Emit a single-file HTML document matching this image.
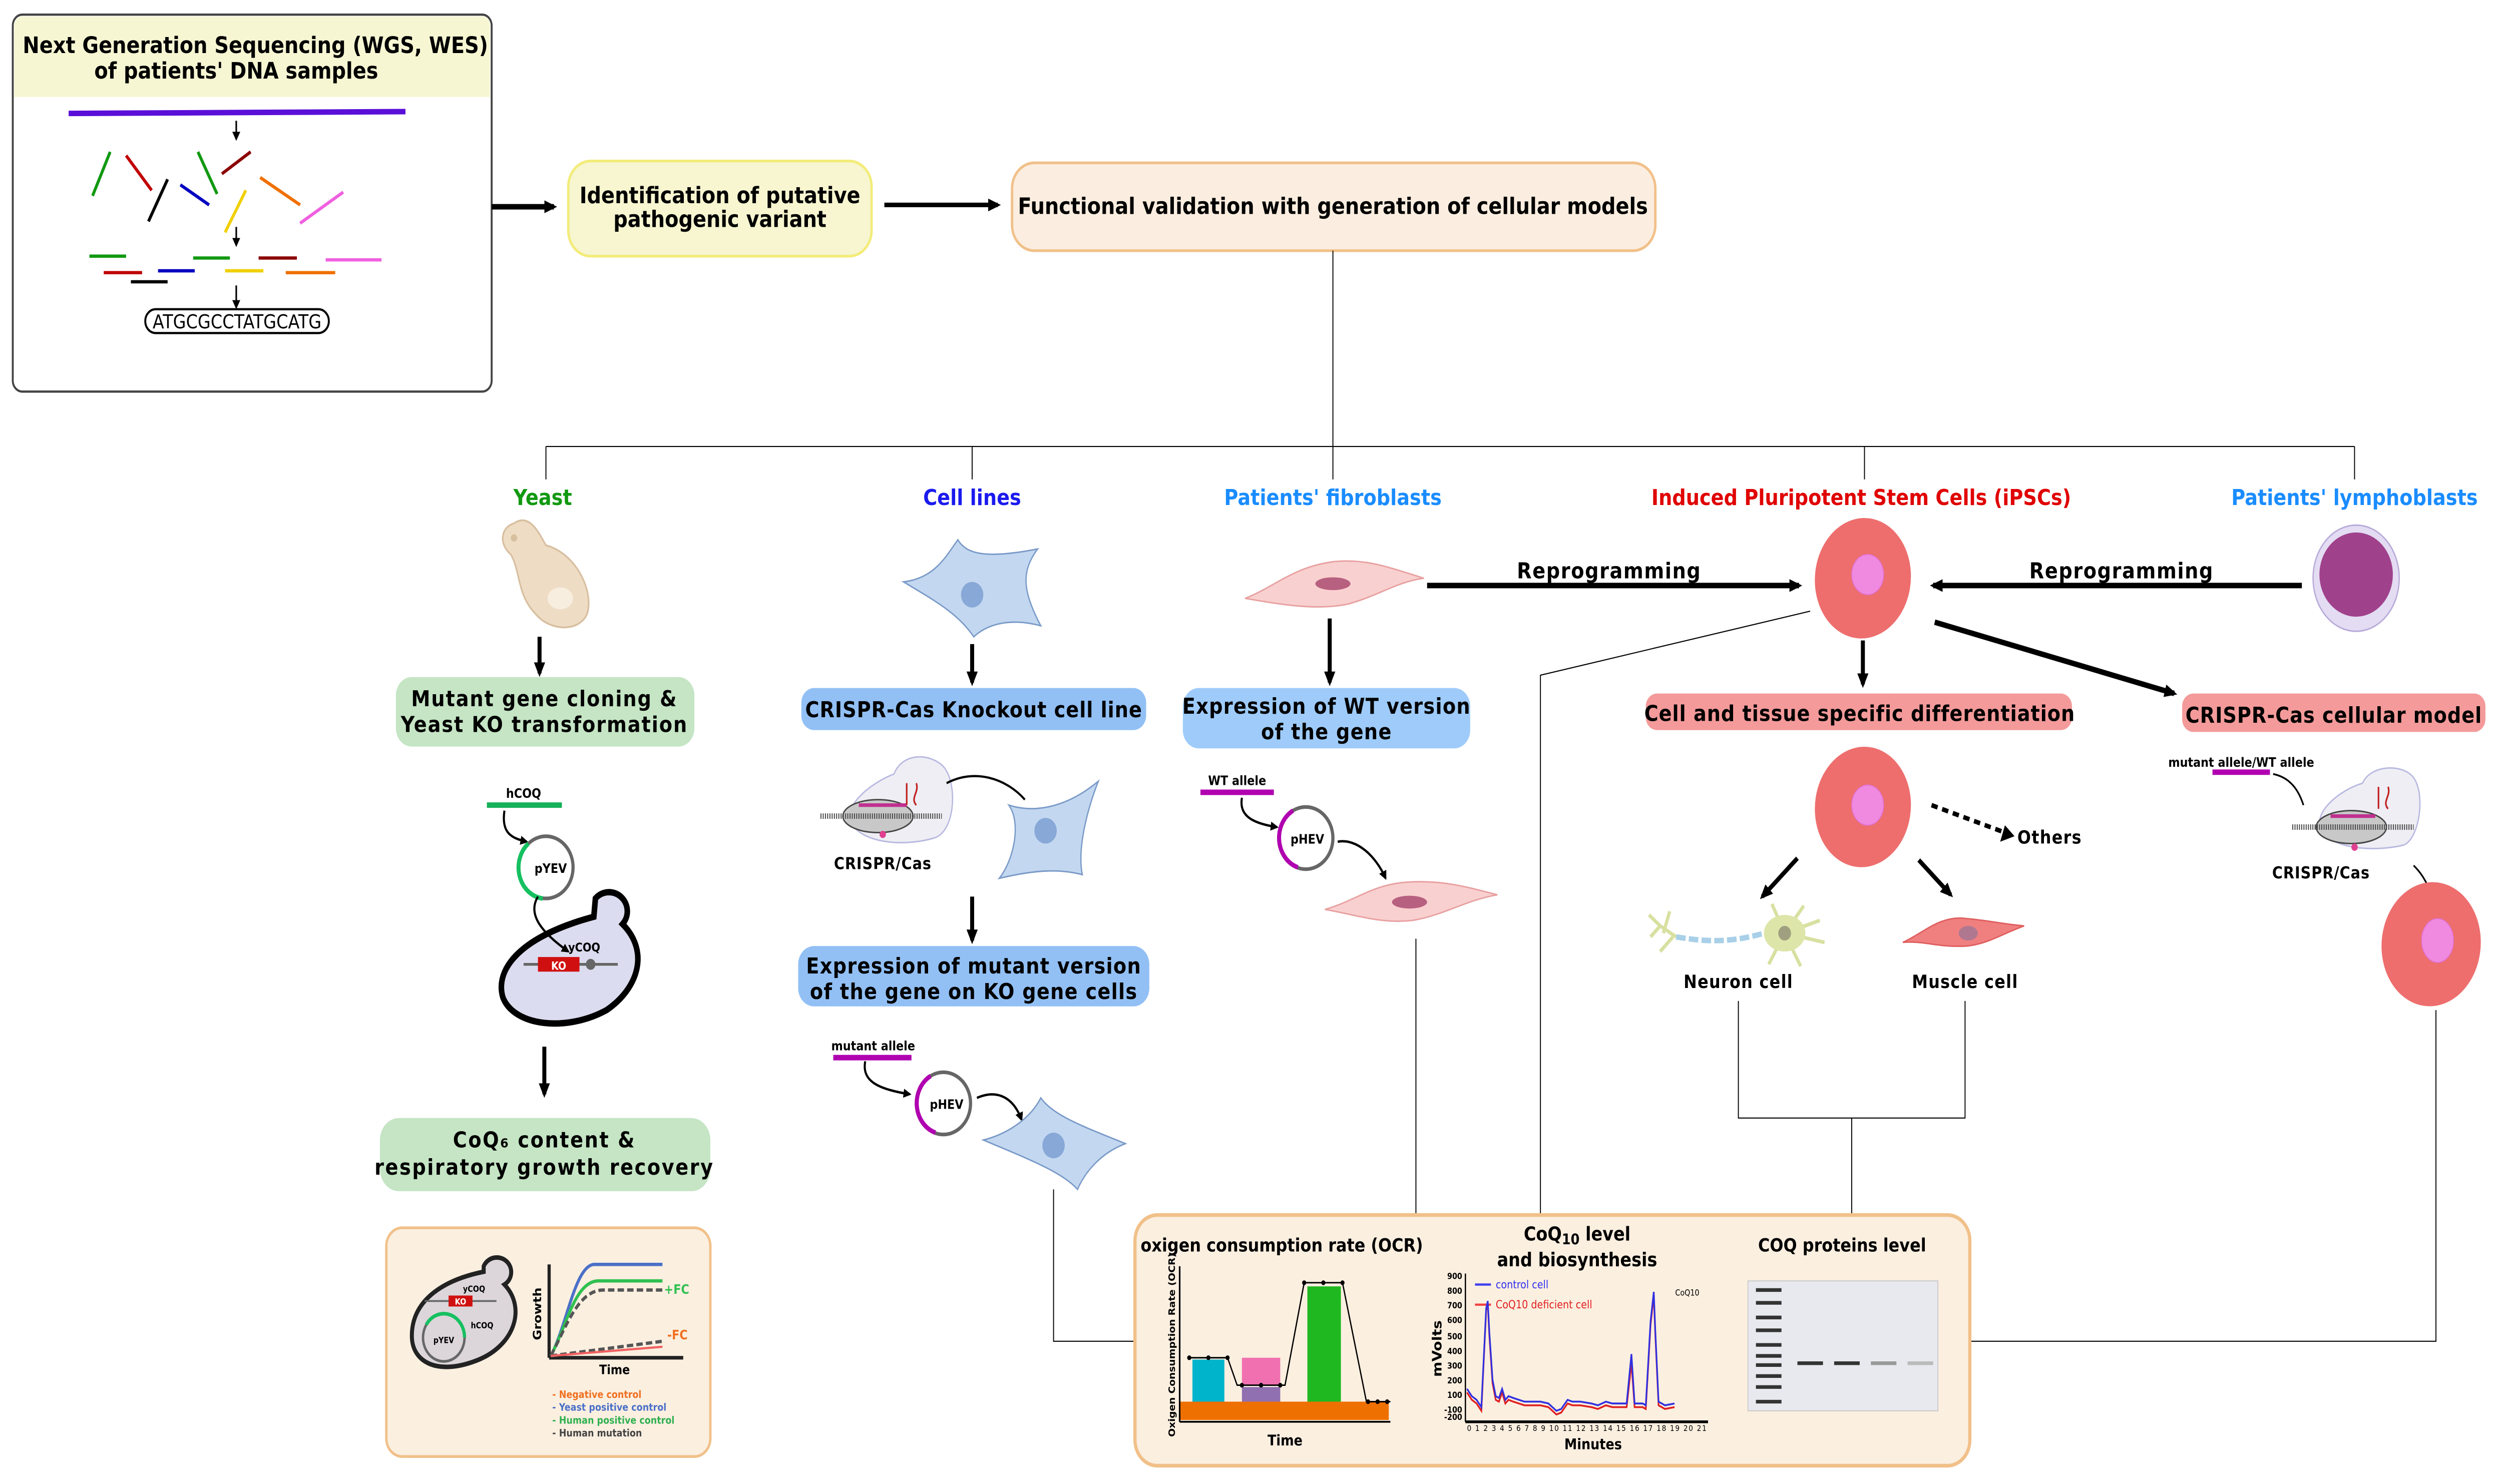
<!DOCTYPE html>
<html><head><meta charset="utf-8"><style>
html,body{margin:0;padding:0;background:#fff;width:100vw;height:100vh;overflow:hidden;}
svg{display:block;width:100vw;height:100vh;}
text{font-family:"DejaVu Sans","Liberation Sans",sans-serif;font-weight:bold;}
</style></head><body>
<svg viewBox="0 0 1568 811" preserveAspectRatio="none" xmlns="http://www.w3.org/2000/svg">
<defs>
<marker id="ah" markerWidth="5" markerHeight="5" refX="4" refY="2.5" orient="auto" markerUnits="userSpaceOnUse"><path d="M0,0 L5,2.5 L0,5 z" fill="#000"/></marker>
<marker id="as" markerWidth="8" markerHeight="7" refX="6" refY="3.5" orient="auto" markerUnits="userSpaceOnUse"><path d="M0,0 L8,3.5 L0,7 z" fill="#000"/></marker>
</defs>
<rect width="1568" height="811" fill="#fff"/>
<g>

<!-- NGS box -->
<rect x="8" y="8" width="300" height="206" rx="6" fill="#fff" stroke="#444" stroke-width="1.2"/>
<path d="M9,53 V14 a5,5 0 0 1 5,-5 H302 a5,5 0 0 1 5,5 V53 z" fill="#f7f6d3"/>
<text x="160" y="29" font-size="12.5" text-anchor="middle">Next Generation Sequencing (WGS, WES)</text>
<text x="148" y="43" font-size="12.5" text-anchor="middle">of patients' DNA samples</text>
<line x1="43" y1="62" x2="254" y2="61" stroke="#5a0fd8" stroke-width="3"/>
<line x1="148" y1="66" x2="148" y2="76" stroke="#000" stroke-width="1" marker-end="url(#ah)"/>
<g stroke-width="1.8">
<line x1="69" y1="83" x2="58" y2="107" stroke="#119911"/>
<line x1="79" y1="85" x2="95" y2="104" stroke="#c00000"/>
<line x1="105" y1="98" x2="93" y2="121" stroke="#000"/>
<line x1="113" y1="101" x2="131" y2="112" stroke="#0000c0"/>
<line x1="124" y1="83" x2="136" y2="106" stroke="#119911"/>
<line x1="139" y1="95" x2="157" y2="83" stroke="#8b0000"/>
<line x1="163" y1="97" x2="188" y2="112" stroke="#f07000"/>
<line x1="154" y1="104" x2="141" y2="127" stroke="#f0d000"/>
<line x1="188" y1="122" x2="215" y2="105" stroke="#f060e0"/>
<line x1="56" y1="140" x2="79" y2="140" stroke="#119911"/>
<line x1="65" y1="149" x2="89" y2="149" stroke="#c00000"/>
<line x1="82" y1="154" x2="105" y2="154" stroke="#000"/>
<line x1="99" y1="148" x2="122" y2="148" stroke="#0000c0"/>
<line x1="121" y1="141" x2="144" y2="141" stroke="#119911"/>
<line x1="141" y1="148" x2="165" y2="148" stroke="#f0d000"/>
<line x1="162" y1="141" x2="186" y2="141" stroke="#8b0000"/>
<line x1="179" y1="149" x2="210" y2="149" stroke="#f07000"/>
<line x1="204" y1="142" x2="239" y2="142" stroke="#f060e0"/>
</g>
<line x1="148" y1="124" x2="148" y2="134" stroke="#000" stroke-width="1" marker-end="url(#ah)"/>
<line x1="148" y1="156" x2="148" y2="168" stroke="#000" stroke-width="1" marker-end="url(#ah)"/>
<rect x="91" y="169" width="115" height="13" rx="6.5" fill="#fff" stroke="#000" stroke-width="1.2"/>
<text x="148.5" y="179.5" font-size="10.5" style="font-weight:normal" text-anchor="middle">ATGCGCCTATGCATG</text>

<!-- top flow -->
<line x1="308" y1="113" x2="347" y2="113" stroke="#000" stroke-width="3" marker-end="url(#as)"/>
<rect x="356" y="88" width="190" height="52" rx="14" fill="#f7f6d0" stroke="#f2ec7a" stroke-width="1.5"/>
<text x="451" y="111" font-size="12.5" text-anchor="middle">Identification of putative</text>
<text x="451" y="124" font-size="12.5" text-anchor="middle">pathogenic variant</text>
<line x1="554" y1="112" x2="625" y2="112" stroke="#000" stroke-width="2.5" marker-end="url(#as)"/>
<rect x="634" y="89" width="403" height="48" rx="14" fill="#fbeee0" stroke="#f1c089" stroke-width="1.5"/>
<text x="835" y="117" font-size="12.5" text-anchor="middle">Functional validation with generation of cellular models</text>

<!-- tree -->
<g stroke="#000" stroke-width="0.6" fill="none">
<line x1="835" y1="137" x2="835" y2="262"/>
<line x1="342" y1="244" x2="1475" y2="244"/>
<line x1="342" y1="244" x2="342" y2="262"/>
<line x1="609" y1="244" x2="609" y2="262"/>
<line x1="1168" y1="244" x2="1168" y2="262"/>
<line x1="1475" y1="244" x2="1475" y2="262"/>
</g>
<text x="340" y="276" font-size="12" fill="#119911" text-anchor="middle">Yeast</text>
<text x="609" y="276" font-size="12" fill="#1a1aee" text-anchor="middle">Cell lines</text>
<text x="835" y="276" font-size="12" fill="#1a8cff" text-anchor="middle">Patients' fibroblasts</text>
<text x="1166" y="276" font-size="12" fill="#e00000" text-anchor="middle">Induced Pluripotent Stem Cells (iPSCs)</text>
<text x="1475" y="276" font-size="12" fill="#1a8cff" text-anchor="middle">Patients' lymphoblasts</text>

<!-- YEAST column -->
<path d="M322,286 C332,280 338,292 342,298 C360,302 372,322 368,335 C364,345 345,346 335,335 C324,325 326,312 320,303 C312,297 314,288 322,286z" fill="#efdcc4" stroke="#d8bfa0" stroke-width="1"/>
<ellipse cx="351" cy="327" rx="8" ry="6" fill="#f7eedf"/>
<circle cx="322" cy="294" r="2" fill="#d8bfa0"/>
<line x1="338" y1="348" x2="338" y2="368" stroke="#000" stroke-width="2.5" marker-end="url(#as)"/>
<rect x="248" y="370" width="187" height="38" rx="10" fill="#c5e5c5"/>
<text x="341" y="386" font-size="12" text-anchor="middle" letter-spacing="0.6">Mutant gene cloning &amp;</text>
<text x="341" y="400" font-size="12" text-anchor="middle" letter-spacing="0.6">Yeast KO transformation</text>
<line x1="305" y1="440" x2="352" y2="440" stroke="#15b05a" stroke-width="3"/>
<text x="328" y="436" font-size="7" text-anchor="middle">hCOQ</text>
<path d="M316,443 C314,455 320,458 330,460" stroke="#000" stroke-width="1.3" fill="none" marker-end="url(#ah)"/>
<circle cx="342" cy="474" r="17" fill="#fff" stroke="#666" stroke-width="2"/>
<path d="M331,461 A17,17 0 0 0 340,491" stroke="#15c060" stroke-width="2.5" fill="none"/>
<text x="345" y="477" font-size="7" text-anchor="middle">pYEV</text>
<path d="M373,491 a11,10 0 1 1 17,14 C407,520 400,540 380,552 C355,564 322,561 315,545 C310,530 325,512 372,501 z" fill="#dcdcf0" stroke="#000" stroke-width="3.5"/>
<path d="M337,490 C330,500 340,510 356,520" stroke="#000" stroke-width="1.3" fill="none" marker-end="url(#ah)"/>
<line x1="328" y1="527" x2="387" y2="527" stroke="#666" stroke-width="1.5"/>
<circle cx="370" cy="527" r="3" fill="#666"/>
<rect x="337" y="523" width="26" height="8" fill="#d01010"/>
<text x="350" y="530" font-size="6" fill="#fff" text-anchor="middle">KO</text>
<text x="366" y="520" font-size="6.5" text-anchor="middle">yCOQ</text>
<line x1="341" y1="572" x2="341" y2="598" stroke="#000" stroke-width="2.5" marker-end="url(#as)"/>
<rect x="238" y="611" width="207" height="40" rx="12" fill="#c5e5c5"/>
<text x="341" y="627" font-size="12" text-anchor="middle" letter-spacing="0.8">CoQ₆ content &amp;</text>
<text x="341" y="642" font-size="12" text-anchor="middle" letter-spacing="0.8">respiratory growth recovery</text>
<rect x="242" y="671" width="203" height="125" rx="10" fill="#fbefe0" stroke="#f1c089" stroke-width="1.5"/>
<path d="M303,692 a9,8 0 1 1 13,10 C330,715 322,735 300,743 C275,752 258,745 258,730 C258,712 275,700 303,695 z" fill="#dcd6da" stroke="#222" stroke-width="2.5"/>
<line x1="266" y1="711" x2="311" y2="711" stroke="#666" stroke-width="1"/>
<rect x="281" y="708" width="15" height="6" fill="#d01010"/>
<text x="288.5" y="713" font-size="4.5" fill="#fff" text-anchor="middle">KO</text>
<text x="297" y="706" font-size="4.5" text-anchor="middle">yCOQ</text>
<text x="302" y="726" font-size="4.5" text-anchor="middle">hCOQ</text>
<circle cx="278" cy="731" r="13" fill="none" stroke="#666" stroke-width="1.5"/>
<path d="M267,724 A13,13 0 0 1 291,731" stroke="#15c060" stroke-width="2" fill="none"/>
<text x="278" y="734" font-size="4.5" text-anchor="middle">pYEV</text>
<line x1="344" y1="691" x2="344" y2="742" stroke="#222" stroke-width="2"/>
<line x1="344" y1="742" x2="428" y2="742" stroke="#222" stroke-width="2"/>
<path d="M345,741 C355,725 360,692 372,691 H415" stroke="#4a70c8" stroke-width="1.8" fill="none"/>
<path d="M345,741 C355,725 360,700 375,700 H415" stroke="#30c050" stroke-width="1.8" fill="none"/>
<path d="M345,741 C355,725 362,705 378,705 H415" stroke="#555" stroke-width="1.8" stroke-dasharray="4,2" fill="none"/>
<path d="M345,741 L415,733" stroke="#555" stroke-width="1.8" stroke-dasharray="4,2" fill="none"/>
<path d="M345,741 L415,736" stroke="#f06060" stroke-width="1.2" fill="none"/>
<text x="416" y="707" font-size="7" fill="#30c050">+FC</text>
<text x="418" y="732" font-size="7" fill="#f07020">-FC</text>
<text x="339" y="718" font-size="7" text-anchor="middle" transform="rotate(-90 339 718)">Growth</text>
<text x="385" y="751" font-size="7" text-anchor="middle">Time</text>
<text x="346" y="764" font-size="5.5" fill="#f07020">- Negative control</text>
<text x="346" y="771" font-size="5.5" fill="#4a70c8">- Yeast positive control</text>
<text x="346" y="778" font-size="5.5" fill="#30b050">- Human positive control</text>
<text x="346" y="785" font-size="5.5" fill="#444">- Human mutation</text>

<!-- CELL LINES column -->
<path d="M566,318 C585,316 592,305 600,295 C605,302 615,306 650,300 C640,312 640,322 652,342 C635,338 620,340 610,348 C600,335 585,328 566,318z" fill="#c3d8f0" stroke="#7a9ac8" stroke-width="0.8"/>
<ellipse cx="609" cy="325" rx="7" ry="7" fill="#88a8d8"/>
<line x1="609" y1="352" x2="609" y2="373" stroke="#000" stroke-width="2.5" marker-end="url(#as)"/>
<rect x="502" y="376" width="216" height="23" rx="8" fill="#92c0f5"/>
<text x="610" y="392" font-size="12" text-anchor="middle" letter-spacing="0.3">CRISPR-Cas Knockout cell line</text>
<g>
<path d="M560,423 C566,410 585,412 592,420 C600,430 598,455 585,458 C570,462 545,462 535,452 C525,442 545,428 560,423z" fill="#eeeef4" stroke="#b8b8e0" stroke-width="0.8"/>
<ellipse cx="550" cy="446" rx="22" ry="9" fill="#c8c8c8" stroke="#444" stroke-width="0.8"/>
<line x1="514" y1="446" x2="590" y2="446" stroke="#444" stroke-width="3" stroke-dasharray="0.6,0.8"/>
<line x1="538" y1="440" x2="568" y2="440" stroke="#c03090" stroke-width="2"/>
<path d="M568,428 v12 M574,428 c2,5 -4,8 0,12" stroke="#c02020" stroke-width="1" fill="none"/>
<circle cx="553" cy="456" r="2" fill="#e04090"/>
</g>
<text x="553" y="475" font-size="9" text-anchor="middle" letter-spacing="0.3">CRISPR/Cas</text>
<path d="M593,428 C610,420 630,425 642,437" stroke="#000" stroke-width="1.2" fill="none"/>
<path d="M626,480 C635,470 640,450 632,440 C650,445 670,440 688,427 C680,445 675,465 678,478 C665,475 650,475 626,480z" fill="#c3d8f0" stroke="#7a9ac8" stroke-width="0.8"/>
<ellipse cx="655" cy="454" rx="7" ry="7" fill="#88a8d8"/>
<line x1="609" y1="490" x2="609" y2="514" stroke="#000" stroke-width="2.5" marker-end="url(#as)"/>
<rect x="500" y="517" width="220" height="33" rx="10" fill="#92c0f5"/>
<text x="610" y="532" font-size="12" text-anchor="middle" letter-spacing="0.4">Expression of mutant version</text>
<text x="610" y="546" font-size="12" text-anchor="middle" letter-spacing="0.4">of the gene on KO gene cells</text>
<text x="547" y="574" font-size="7" text-anchor="middle">mutant allele</text>
<line x1="522" y1="578" x2="571" y2="578" stroke="#b000b0" stroke-width="3"/>
<path d="M542,580 C540,590 548,595 570,598" stroke="#000" stroke-width="1.3" fill="none" marker-end="url(#ah)"/>
<circle cx="591" cy="603" r="17" fill="#fff" stroke="#666" stroke-width="2"/>
<path d="M583,588 A17,17 0 0 0 586,619" stroke="#b000b0" stroke-width="2.5" fill="none"/>
<text x="593" y="606" font-size="7" text-anchor="middle">pHEV</text>
<path d="M612,600 C625,595 635,600 640,612" stroke="#000" stroke-width="1.3" fill="none" marker-end="url(#ah)"/>
<path d="M616,623 C630,620 645,612 652,600 C660,610 680,616 705,625 C690,630 680,640 675,650 C665,640 640,632 616,623z" fill="#c3d8f0" stroke="#7a9ac8" stroke-width="0.8"/>
<ellipse cx="660" cy="626" rx="7" ry="7" fill="#88a8d8"/>
<path d="M660,650 V733 H711" stroke="#000" stroke-width="0.6" fill="none"/>

<!-- FIBROBLAST column -->
<path d="M780,327 C800,320 810,310 835,307 C855,305 870,310 892,316 C875,318 865,325 845,330 C825,334 800,330 780,327z" fill="#f9d0d0" stroke="#e8a0a0" stroke-width="0.8"/>
<ellipse cx="835" cy="319" rx="11" ry="3.5" fill="#b86080"/>
<line x1="833" y1="338" x2="833" y2="373" stroke="#000" stroke-width="2.5" marker-end="url(#as)"/>
<rect x="741" y="376" width="180" height="33" rx="10" fill="#9ecbfa"/>
<text x="831" y="390" font-size="12" text-anchor="middle" letter-spacing="0.4">Expression of WT version</text>
<text x="831" y="404" font-size="12" text-anchor="middle" letter-spacing="0.4">of the gene</text>
<text x="775" y="429" font-size="7" text-anchor="middle">WT allele</text>
<line x1="752" y1="433" x2="798" y2="433" stroke="#b000b0" stroke-width="3"/>
<path d="M778,436 C776,446 785,450 800,452" stroke="#000" stroke-width="1.3" fill="none" marker-end="url(#ah)"/>
<circle cx="818" cy="458" r="17" fill="#fff" stroke="#666" stroke-width="2"/>
<path d="M810,443 A17,17 0 0 0 813,474" stroke="#b000b0" stroke-width="2.5" fill="none"/>
<text x="819" y="461" font-size="7" text-anchor="middle">pHEV</text>
<path d="M838,460 C850,458 862,468 868,480" stroke="#000" stroke-width="1.3" fill="none" marker-end="url(#ah)"/>
<path d="M830,497 C850,492 860,483 883,482 C905,481 920,485 938,489 C918,492 905,500 885,503 C865,505 850,500 830,497z" fill="#f9d0d0" stroke="#e8a0a0" stroke-width="0.8"/>
<ellipse cx="883" cy="493" rx="11" ry="3.5" fill="#b86080"/>
<line x1="887" y1="513" x2="887" y2="664" stroke="#000" stroke-width="0.6"/>
<line x1="894" y1="320" x2="1127" y2="320" stroke="#000" stroke-width="3" marker-end="url(#as)"/>
<text x="1008" y="316" font-size="12" text-anchor="middle" letter-spacing="0.5">Reprogramming</text>

<!-- iPSC column -->
<g transform="rotate(10 1167 316)"><ellipse cx="1167" cy="316" rx="30" ry="33" fill="#ee6e6e"/></g>
<ellipse cx="1170" cy="314" rx="10" ry="11" fill="#f08ae0" stroke="#e070d0" stroke-width="0.5"/>
<line x1="1442" y1="320" x2="1211" y2="320" stroke="#000" stroke-width="3" marker-end="url(#as)"/>
<text x="1329" y="316" font-size="12" text-anchor="middle" letter-spacing="0.5">Reprogramming</text>
<ellipse cx="1476" cy="316" rx="27" ry="29" fill="#e3dcf3" stroke="#b8aad8" stroke-width="0.8"/>
<ellipse cx="1476" cy="314" rx="23" ry="23" fill="#a0418c"/>
<path d="M1134,334 L965,369 V664" stroke="#000" stroke-width="0.6" fill="none"/>
<line x1="1167" y1="350" x2="1167" y2="374" stroke="#000" stroke-width="2.5" marker-end="url(#as)"/>
<rect x="1031" y="379" width="267" height="20" rx="7" fill="#f49a9a"/>
<text x="1165" y="394" font-size="12" text-anchor="middle" letter-spacing="0.3">Cell and tissue specific differentiation</text>
<line x1="1212" y1="340" x2="1362" y2="379" stroke="#000" stroke-width="3" marker-end="url(#as)"/>
<rect x="1367" y="379" width="190" height="21" rx="7" fill="#f49a9a"/>
<text x="1462" y="395" font-size="12" text-anchor="middle" letter-spacing="0.3">CRISPR-Cas cellular model</text>
<g transform="rotate(10 1167 441)"><ellipse cx="1167" cy="441" rx="30" ry="33" fill="#ee6e6e"/></g>
<ellipse cx="1170" cy="440" rx="10" ry="11" fill="#f08ae0" stroke="#e070d0" stroke-width="0.5"/>
<line x1="1210" y1="440" x2="1256" y2="455" stroke="#000" stroke-width="2.5" stroke-dasharray="4,3"/>
<path d="M1262,457 L1253,460 L1256,451 z" fill="#000"/>
<text x="1284" y="461" font-size="10" text-anchor="middle" letter-spacing="0.4">Others</text>
<line x1="1126" y1="469" x2="1104" y2="490" stroke="#000" stroke-width="2.5" marker-end="url(#as)"/>
<line x1="1202" y1="470" x2="1222" y2="489" stroke="#000" stroke-width="2.5" marker-end="url(#as)"/>
<!-- neuron -->
<g stroke="#d8e0a0" stroke-width="2" fill="none">
<path d="M1040,506 L1033,500 M1040,506 L1034,512 M1040,506 L1050,512 M1046,498 L1042,510 M1040,520 L1048,512"/>
<path d="M1118,510 L1130,495 M1118,510 L1140,503 M1118,510 L1143,515 M1118,510 L1128,528 M1118,510 L1108,527 M1118,510 L1110,494"/>
</g>
<path d="M1050,512 C1070,515 1085,515 1105,510" stroke="#a8d0e8" stroke-width="3" stroke-dasharray="6,2" fill="none"/>
<ellipse cx="1118" cy="510" rx="13" ry="10" fill="#dde6a8"/>
<circle cx="1118" cy="510" r="4" fill="#a0a080"/>
<path d="M1192,515 C1205,510 1215,500 1232,502 C1245,503 1255,505 1268,506 C1255,510 1245,516 1232,517 C1215,518 1205,514 1192,515z" fill="#f08080" stroke="#e06060" stroke-width="0.8"/>
<ellipse cx="1233" cy="510" rx="6" ry="4" fill="#b07890"/>
<text x="1089" y="540" font-size="10" text-anchor="middle" letter-spacing="0.4">Neuron cell</text>
<text x="1231" y="540" font-size="10" text-anchor="middle" letter-spacing="0.4">Muscle cell</text>
<g stroke="#000" stroke-width="0.6" fill="none">
<path d="M1089,547 V611 H1231 V547"/>
<line x1="1160" y1="611" x2="1160" y2="664"/>
</g>
<!-- right CRISPR -->
<text x="1404" y="419" font-size="7" text-anchor="middle">mutant allele/WT allele</text>
<line x1="1386" y1="422" x2="1422" y2="422" stroke="#b000b0" stroke-width="3"/>
<path d="M1424,423 C1435,425 1440,432 1443,440" stroke="#000" stroke-width="1" fill="none"/>
<path d="M1480,428 C1485,418 1505,417 1512,425 C1520,435 1515,460 1505,462 C1490,465 1465,465 1455,455 C1447,445 1465,432 1480,428z" fill="#eeeef4" stroke="#b8b8e0" stroke-width="0.8"/>
<ellipse cx="1473" cy="452" rx="22" ry="9" fill="#c8c8c8" stroke="#444" stroke-width="0.8"/>
<line x1="1436" y1="452" x2="1512" y2="452" stroke="#444" stroke-width="3" stroke-dasharray="0.6,0.8"/>
<line x1="1460" y1="446" x2="1488" y2="446" stroke="#c03090" stroke-width="2"/>
<path d="M1490,430 v12 M1496,430 c2,5 -4,8 0,12" stroke="#c02020" stroke-width="1" fill="none"/>
<circle cx="1475" cy="463" r="2" fill="#e04090"/>
<text x="1454" y="480" font-size="9" text-anchor="middle" letter-spacing="0.3">CRISPR/Cas</text>
<path d="M1512,473 C1518,478 1522,485 1523,490" stroke="#000" stroke-width="1" fill="none"/>
<g transform="rotate(10 1523 516)"><ellipse cx="1523" cy="516" rx="31" ry="34" fill="#ee6e6e"/></g>
<ellipse cx="1527" cy="514" rx="10" ry="12" fill="#f08ae0" stroke="#e070d0" stroke-width="0.5"/>
<path d="M1526,552 V733 H1234" stroke="#000" stroke-width="0.6" fill="none"/>

<!-- bottom panel -->
<rect x="711" y="664" width="523" height="137" rx="14" fill="#fbefe0" stroke="#f1c089" stroke-width="2"/>
<text x="803" y="684" font-size="10" text-anchor="middle">oxigen consumption rate (OCR)</text>
<text x="988" y="678" font-size="10.5" text-anchor="middle">CoQ<tspan font-size="8" dy="2">10</tspan><tspan dy="-2"> level</tspan></text>
<text x="988" y="692" font-size="10.5" text-anchor="middle">and biosynthesis</text>
<text x="1154" y="684" font-size="10" text-anchor="middle">COQ proteins level</text>
<!-- OCR chart -->
<rect x="739" y="766" width="131" height="10" fill="#ee7000"/>
<rect x="747" y="743" width="20" height="23" fill="#00b4cc"/>
<rect x="778" y="742" width="24" height="15" fill="#f070b0"/>
<rect x="778" y="758" width="24" height="8" fill="#9070b0"/>
<rect x="819" y="703" width="21" height="63" fill="#20b820"/>
<line x1="739" y1="692" x2="739" y2="777" stroke="#000" stroke-width="1"/>
<line x1="739" y1="777" x2="871" y2="777" stroke="#000" stroke-width="1"/>
<polyline points="745,742 769,742 775,757 805,757 817,701 841,701 856,766 871,766" stroke="#000" stroke-width="0.8" fill="none"/>
<g fill="#000"><circle cx="745" cy="742" r="1.3"/><circle cx="757" cy="742" r="1.3"/><circle cx="769" cy="742" r="1.3"/><circle cx="778" cy="757" r="1.3"/><circle cx="790" cy="757" r="1.3"/><circle cx="802" cy="757" r="1.3"/><circle cx="817" cy="701" r="1.3"/><circle cx="829" cy="701" r="1.3"/><circle cx="841" cy="701" r="1.3"/><circle cx="857" cy="766" r="1.3"/><circle cx="863" cy="766" r="1.3"/><circle cx="869" cy="766" r="1.3"/></g>
<text x="736" y="735" font-size="5.5" text-anchor="middle" transform="rotate(-90 736 735)">Oxigen Consumption Rate (OCR)</text>
<text x="805" y="790" font-size="8" text-anchor="middle">Time</text>
<!-- chromatogram -->
<line x1="918" y1="696" x2="918" y2="777" stroke="#000" stroke-width="0.8"/>
<line x1="918" y1="777" x2="1070" y2="777" stroke="#000" stroke-width="1.5"/>
<g font-size="4.5" style="font-weight:normal" text-anchor="end">
<text x="916" y="699">900</text><text x="916" y="707">800</text><text x="916" y="715">700</text><text x="916" y="723">600</text><text x="916" y="732">500</text><text x="916" y="740">400</text><text x="916" y="748">300</text><text x="916" y="756">200</text><text x="916" y="764">100</text><text x="916" y="772">-100</text><text x="916" y="776">-200</text>
</g>
<text x="919" y="782" font-size="4.3" style="font-weight:normal" textLength="150">0 1 2 3 4 5 6 7 8 9 10 11 12 13 14 15 16 17 18 19 20 21</text>
<text x="903" y="737" font-size="8" text-anchor="middle" transform="rotate(-90 903 737)">mVolts</text>
<text x="998" y="792" font-size="8" text-anchor="middle">Minutes</text>
<line x1="924" y1="702" x2="934" y2="702" stroke="#4040f0" stroke-width="1.2"/>
<text x="937" y="704" font-size="6" fill="#3030f0" style="font-weight:normal">control cell</text>
<line x1="924" y1="713" x2="934" y2="713" stroke="#f04040" stroke-width="1.2"/>
<text x="937" y="715" font-size="6" fill="#e02020" style="font-weight:normal">CoQ10 deficient cell</text>
<text x="1057" y="708" font-size="4.5" text-anchor="middle" style="font-weight:normal">CoQ10</text>
<polyline points="919,761 922,765 925,767 928,771 931,716 932,713 933,730 935,756 937,765 939,766 941,761 943,767 945,765 948,766 955,768 960,768 965,768 970,769 975,773 978,772 982,767 985,768 990,768 997,769 1001,770 1006,768 1010,769 1019,769 1022,745 1024,769 1029,769 1031,770 1034,724 1036,708 1037,730 1039,768 1043,770 1049,769" stroke="#e02020" stroke-width="1" fill="none"/>
<polyline points="919,759 922,763 925,765 928,769 931,715 932,711 933,728 935,754 937,763 939,764 941,759 943,765 945,763 948,764 955,766 960,766 965,766 970,767 975,771 978,770 982,765 985,766 990,766 997,767 1001,768 1006,766 1010,767 1019,767 1022,740 1024,767 1029,767 1031,768 1034,722 1036,706 1037,728 1039,766 1043,768 1049,767" stroke="#3030e0" stroke-width="1" fill="none"/>
<!-- gel -->
<rect x="1095" y="700" width="119" height="71" fill="#e8e9ee" stroke="#ccc" stroke-width="0.6"/>
<g stroke="#333" stroke-width="2">
<line x1="1100" y1="705" x2="1116" y2="705"/><line x1="1100" y1="712" x2="1116" y2="712"/><line x1="1100" y1="720" x2="1116" y2="720"/><line x1="1100" y1="727" x2="1116" y2="727"/><line x1="1100" y1="735" x2="1116" y2="735"/><line x1="1100" y1="741" x2="1116" y2="741"/><line x1="1100" y1="746" x2="1116" y2="746"/><line x1="1100" y1="752" x2="1116" y2="752"/><line x1="1100" y1="758" x2="1116" y2="758"/><line x1="1100" y1="766" x2="1116" y2="766"/>
<line x1="1126" y1="745" x2="1142" y2="745"/><line x1="1149" y1="745" x2="1165" y2="745"/>
</g>
<line x1="1172" y1="745" x2="1188" y2="745" stroke="#999" stroke-width="2"/>
<line x1="1195" y1="745" x2="1211" y2="745" stroke="#bbb" stroke-width="2"/>
</g>
</svg>
</body></html>
